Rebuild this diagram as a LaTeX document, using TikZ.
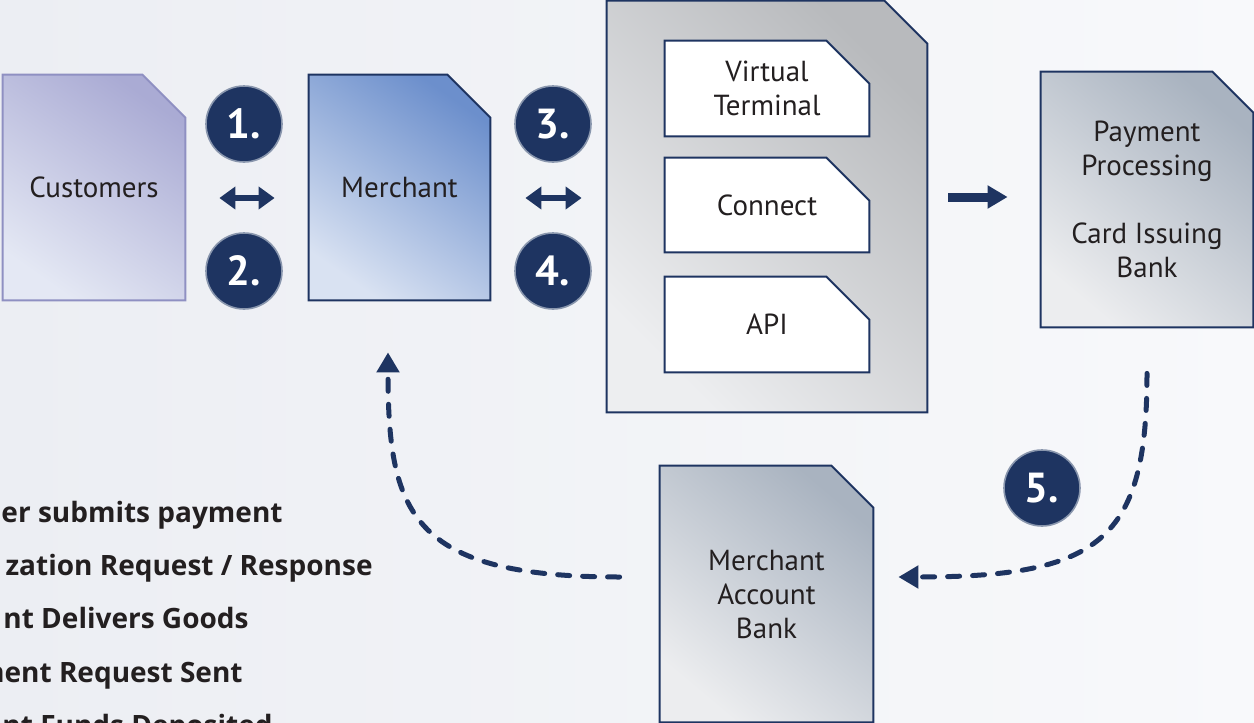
\documentclass[tikz,border=0pt]{standalone}
\usepackage{fontspec}
\setmainfont{PT Sans}
\newfontfamily\legendfont{Open Sans}
\usetikzlibrary{arrows.meta,backgrounds}

\definecolor{navy}{HTML}{1E3461}
\definecolor{ring}{HTML}{8996AD}
\definecolor{ink}{HTML}{231F20}
\definecolor{lavdark}{HTML}{AAABD4}
\definecolor{lavlight}{HTML}{E4E8F4}
\definecolor{lavedge}{HTML}{8F90C2}
\definecolor{bluedark}{HTML}{6C8FCC}
\definecolor{bluelight}{HTML}{D9E2F2}
\definecolor{graydark}{HTML}{B8BABD}
\definecolor{graylight}{HTML}{EDEEF0}
\definecolor{slatedark}{HTML}{A9B3C0}
\definecolor{slatelight}{HTML}{ECEDEF}
\definecolor{pageleft}{HTML}{ECEEF3}
\definecolor{pageright}{HTML}{F8F9FB}

% page shape with the top right corner cut off, drawn behind a node
\newcommand{\cutbox}[3]{%
  \begin{scope}[on background layer]
    \path[#3] (#1.north west) -- ([xshift=-#2]#1.north east)
      -- ([yshift=-#2]#1.north east) -- (#1.south east)
      -- (#1.south west) -- cycle;
  \end{scope}}

\tikzset{
  boxtext/.style={font=\fontsize{14.5}{17}\selectfont, text=ink, align=center, inner sep=0pt},
  custfill/.style={draw=lavedge, line width=1pt, top color=lavdark, bottom color=lavlight, shading angle=-35},
  merchfill/.style={draw=navy, line width=1pt, top color=bluedark, bottom color=bluelight, shading angle=-35},
  gatefill/.style={draw=navy, line width=1pt, top color=graydark, bottom color=graylight, shading angle=-45},
  modfill/.style={draw=navy, line width=1pt, fill=white},
  bankfill/.style={draw=navy, line width=1pt, top color=slatedark, bottom color=slatelight, shading angle=-40},
  numdot/.style={circle, fill=navy, draw=ring, line width=0.8pt, minimum size=38pt, inner sep=0pt,
    text=white, font=\bfseries\fontsize{21}{21}\selectfont},
  biarrow/.style={navy, line width=3pt, {Triangle[length=8pt,width=11pt]}-{Triangle[length=8pt,width=11pt]}},
  fwdarrow/.style={navy, line width=4.5pt, -{Triangle[length=10pt,width=11pt]}},
  dasharrow/.style={navy, line width=2.5pt, line cap=round, dash pattern=on 6pt off 6.5pt,
    -{Triangle[length=10pt,width=11pt]}},
  legend/.style={anchor=base east, inner sep=0pt, text=ink, font=\legendfont\bfseries\fontsize{14}{17}\selectfont}
}

\begin{document}
\begin{tikzpicture}[x=0.5pt, y=-0.5pt]

    \useasboundingbox (0,0) rectangle (1254,723);
    \begin{scope}[on background layer]
        \shade[left color=pageleft, right color=pageright] (0,0) rectangle (1254,723);
    \end{scope}
    \clip (0,0) rectangle (1254,723);

    % parties
    \node[boxtext, minimum width=91pt, minimum height=112.5pt] (cust) at (94,187.5) {Customers};
    \node[boxtext, minimum width=90.5pt, minimum height=112.5pt] (merch) at (399.5,187.5) {Merchant};
    \node[boxtext, minimum width=160pt, minimum height=205.5pt] (gate) at (767,206.5) {};
    \node[boxtext, minimum width=102pt, minimum height=47.5pt] (vt) at (767,88.5) {Virtual\\Terminal};
    \node[boxtext, minimum width=102pt, minimum height=47pt] (conn) at (767,205) {Connect};
    \node[boxtext, minimum width=102pt, minimum height=47.5pt] (api) at (767,324.5) {API};
    \node[boxtext, minimum width=106pt, minimum height=127.5pt] (proc) at (1147,199.5)
        {Payment\\Processing\\[17pt]Card Issuing\\Bank};
    \node[boxtext, minimum width=106.5pt, minimum height=128pt] (mab) at (766.5,594)
        {Merchant\\Account\\Bank};

    \cutbox{cust}{21.5pt}{custfill}
    \cutbox{merch}{21.5pt}{merchfill}
    \cutbox{gate}{21.5pt}{gatefill}
    \cutbox{vt}{21.5pt}{modfill}
    \cutbox{conn}{21.5pt}{modfill}
    \cutbox{api}{21.5pt}{modfill}
    \cutbox{proc}{20.5pt}{bankfill}
    \cutbox{mab}{21pt}{bankfill}

    % numbered steps
    \node[numdot] (n1) at (244,124) {1.};
    \node[numdot] (n2) at (244,271) {2.};
    \node[numdot] (n3) at (553,124) {3.};
    \node[numdot] (n4) at (553,271) {4.};
    \node[numdot] (n5) at (1042,488) {5.};

    % flows
    \draw[biarrow, shorten <=17pt, shorten >=17pt] ([yshift=-5.25pt]cust.east) -- ([yshift=-5.25pt]merch.west);
    \draw[biarrow, shorten <=17.5pt, shorten >=12.5pt] ([yshift=-5.25pt]merch.east) -- ([yshift=-5.25pt]merch.east -| gate.west);
    \draw[fwdarrow, shorten <=10.5pt, shorten >=16.5pt] ([yshift=1.25pt]gate.east |- proc.west) -- ([yshift=1.25pt]proc.west);
    \draw[dasharrow] ([yshift=-23pt]proc.south) .. controls +(0,167) and +(202,0) .. ([xshift=12.5pt,yshift=8.5pt]mab.east);
    \draw[dasharrow] ([xshift=-20pt,yshift=8.5pt]mab.west) .. controls +(-210,0) and +(0,160) .. ([xshift=-5.75pt,yshift=-26pt]merch.south);

    % legend, cut by the page edge
    \node[legend] (lg1) at (283,522) {er submits payment};
    \node[legend] (lg2) at (373,575) {zation Request / Response};
    \node[legend] (lg3) at (249,628) {nt Delivers Goods};
    \node[legend] (lg4) at (243,682) {ment Request Sent};
    \node[legend] (lg5) at (273,735) {nt Funds Deposited};

\end{tikzpicture}
\end{document}
